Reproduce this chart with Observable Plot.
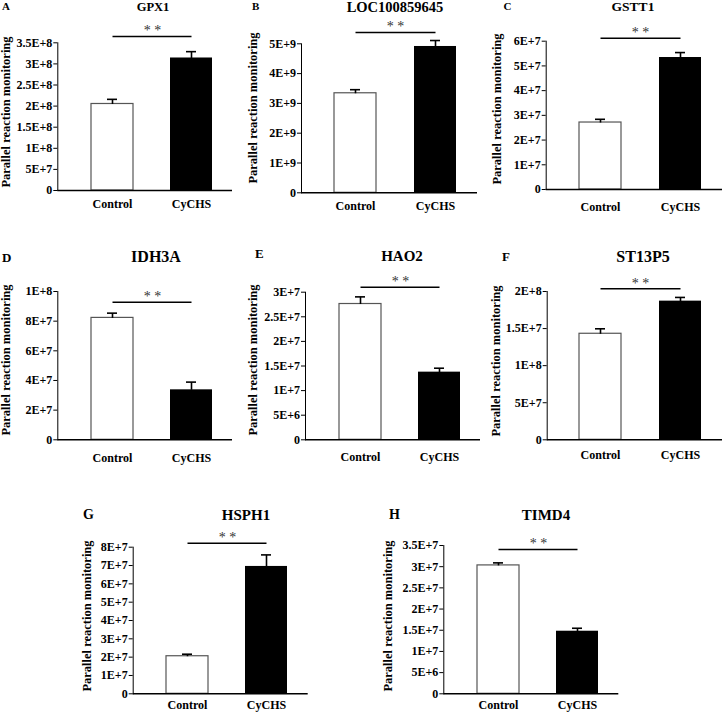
<!DOCTYPE html>
<html><head><meta charset="utf-8">
<script src="https://cdn.jsdelivr.net/npm/d3@7"></script>
<script src="https://cdn.jsdelivr.net/npm/@observablehq/plot@0.6"></script>
<style>
html,body{margin:0;padding:0;background:#fff;}
#fig{position:relative;width:722px;height:714px;overflow:hidden;font-family:'Liberation Serif','Times New Roman',serif;font-weight:bold;color:#000;}
.panel{position:absolute;}
.lbl{position:absolute;white-space:nowrap;line-height:1;}
.ylab{position:absolute;white-space:nowrap;line-height:1;transform:translate(-50%,-50%) rotate(-90deg);}
#fig svg text{font-family:'Liberation Serif','Times New Roman',serif;font-weight:bold;}
#fig svg g[aria-label="text"] text{font-weight:normal;fill:#333;}
</style></head><body><div id="fig"></div>
<script>
// ---------- data ----------
const groups = ["Control", "CyCHS"];
const letters = ["A", "B", "C", "D", "E", "F", "G", "H"];
const genes = ["GPX1", "LOC100859645", "GSTT1", "IDH3A", "HAO2", "ST13P5", "HSPH1", "TIMD4"];
const controlMean = [2.05e8, 3.34e9, 2.71e7, 8.22e7, 2.76e7, 1.43e8, 2.05e7, 3.03e7];
const controlErr  = [0.11e8, 0.12e9, 0.13e7, 0.32e7, 0.145e7, 0.067e8, 0.11e7, 0.06e7];
const cychsMean   = [3.14e8, 4.91e9, 5.34e7, 3.37e7, 1.375e7, 1.87e8, 6.95e7, 1.477e7];
const cychsErr    = [0.15e8, 0.20e9, 0.20e7, 0.52e7, 0.08e7, 0.05e8, 0.63e7, 0.07e7];
const sigLevel    = [3.65e8, 5.38e9, 6.12e7, 0.928e8, 3.10e7, 2.036e8, 8.22e7, 3.406e7];
const sigText = "* *";
const yLabel = "Parallel reaction monitoring";
const yTickValues = [
  [0, 5e7, 1e8, 1.5e8, 2e8, 2.5e8, 3e8, 3.5e8],
  [0, 1e9, 2e9, 3e9, 4e9, 5e9],
  [0, 1e7, 2e7, 3e7, 4e7, 5e7, 6e7],
  [0, 2e7, 4e7, 6e7, 8e7, 1e8],
  [0, 5e6, 1e7, 1.5e7, 2e7, 2.5e7, 3e7],
  [0, 5e7, 1e8, 1.5e8, 2e8],
  [0, 1e7, 2e7, 3e7, 4e7, 5e7, 6e7, 7e7, 8e7],
  [0, 5e6, 1e7, 1.5e7, 2e7, 2.5e7, 3e7, 3.5e7]
];
const yTickLabels = [
  ["0", "5E+7", "1E+8", "1.5E+8", "2E+8", "2.5E+8", "3E+8", "3.5E+8"],
  ["0", "1E+9", "2E+9", "3E+9", "4E+9", "5E+9"],
  ["0", "1E+7", "2E+7", "3E+7", "4E+7", "5E+7", "6E+7"],
  ["0", "2E+7", "4E+7", "6E+7", "8E+7", "1E+8"],
  ["0", "5E+6", "1E+7", "1.5E+7", "2E+7", "2.5E+7", "3E+7"],
  ["0", "5E+7", "1E+8", "1.5E+7", "2E+8"],
  ["0", "1E+7", "2E+7", "3E+7", "4E+7", "5E+7", "6E+7", "7E+7", "8E+7"],
  ["0", "5E+6", "1E+7", "1.5E+7", "2E+7", "2.5E+7", "3E+7", "3.5E+7"]
];

// ---------- layout (pixels, styles) ----------
const layout = [
  {left: 0,   top: 0,   w: 240, h: 222, axisX: 57.3,  topY: 42.3,  zeroY: 190,   xEnd: 232,   ylabX: 6,     ylabY: 112, xPad: 8.5,  letterX: 2,     letterY: 10.7, letterSize: 11, titleX: 153, titleY: 11.7, titleSize: 12.5},
  {left: 240, top: 0,   w: 245, h: 222, axisX: 301,   topY: 43.3,  zeroY: 192.3, xEnd: 477,   ylabX: 253,   ylabY: 108, xPad: 9,    letterX: 252,   letterY: 10.5, letterSize: 11, titleX: 395, titleY: 12.3, titleSize: 14.5},
  {left: 480, top: 0,   w: 242, h: 222, axisX: 545.7, topY: 40.7,  zeroY: 189,   xEnd: 722,   ylabX: 496.7, ylabY: 109, xPad: 12.5, letterX: 503.5, letterY: 10.5, letterSize: 11, titleX: 633, titleY: 11.7, titleSize: 13.5},
  {left: 0,   top: 235, w: 240, h: 232, axisX: 57.3,  topY: 291,   zeroY: 439.3, xEnd: 232,   ylabX: 6,     ylabY: 360, xPad: 13.5, letterX: 2,     letterY: 261.7, letterSize: 13, titleX: 156, titleY: 262, titleSize: 16},
  {left: 240, top: 235, w: 245, h: 232, axisX: 305,   topY: 291.7, zeroY: 439.3, xEnd: 480,   ylabX: 253.3, ylabY: 360, xPad: 13,   letterX: 255,   letterY: 258, letterSize: 13, titleX: 402, titleY: 261.7, titleSize: 15},
  {left: 480, top: 235, w: 242, h: 232, axisX: 546.7, topY: 291,   zeroY: 439.3, xEnd: 722,   ylabX: 496,   ylabY: 361, xPad: 11,   letterX: 502,   letterY: 261, letterSize: 13, titleX: 643, titleY: 262, titleSize: 16},
  {left: 70,  top: 470, w: 245, h: 244, axisX: 132.7, topY: 546.7, zeroY: 693.3, xEnd: 307.7, ylabX: 86.7,  ylabY: 616, xPad: 7,    letterX: 83,    letterY: 520, letterSize: 14, titleX: 246, titleY: 520.7, titleSize: 15},
  {left: 380, top: 470, w: 245, h: 244, axisX: 443.3, topY: 545,   zeroY: 693.3, xEnd: 618.3, ylabX: 388,   ylabY: 616, xPad: 7,    letterX: 389,   letterY: 520, letterSize: 14, titleX: 546, titleY: 520.7, titleSize: 15}
];
const yLabelSize = 12.5;
const yTickSize = 12;
const xTickSize = 12;

const serif = "'Liberation Serif','Times New Roman',serif";
const fig = document.getElementById("fig");

function addLabel(text, x, baseline, size, center) {
  const el = document.createElement("div");
  el.className = "lbl";
  el.textContent = text;
  el.style.fontSize = size + "px";
  el.style.top = (baseline - 0.8375 * size) + "px";
  el.style.left = x + "px";
  if (center) el.style.transform = "translateX(-50%)";
  fig.appendChild(el);
}
function addYLabel(text, cx, cy, size) {
  const el = document.createElement("div");
  el.className = "ylab";
  el.textContent = text;
  el.style.fontSize = size + "px";
  el.style.left = cx + "px";
  el.style.top = cy + "px";
  fig.appendChild(el);
}

genes.forEach((gene, k) => {
  const L = layout[k];
  const rows = [
    {group: groups[0], value: controlMean[k], err: controlErr[k]},
    {group: groups[1], value: cychsMean[k], err: cychsErr[k]}
  ];
  const ticks = yTickValues[k];
  const labels = yTickLabels[k];
  const sig = sigLevel[k];
  const fmt = d => labels[ticks.indexOf(d)];
  const chart = Plot.plot({
    width: L.w,
    height: L.h,
    marginLeft: L.axisX - L.left,
    marginRight: L.left + L.w - L.xEnd,
    marginTop: L.topY - L.top,
    marginBottom: L.top + L.h - L.zeroY,
    style: {fontFamily: serif, fontWeight: "bold", fontSize: yTickSize + "px", color: "#000", background: "transparent", overflow: "visible"},
    x: {type: "band", domain: groups, paddingInner: 0.47, paddingOuter: 0.33, align: 0.62, label: null, tickSize: 0, tickPadding: L.xPad},
    y: {domain: [0, ticks[ticks.length - 1]], ticks: ticks, tickFormat: fmt, tickSize: 4, tickPadding: 1.5, line: true, label: null},
    marks: [
      Plot.barY(rows.filter(d => d.group === groups[0]), {x: "group", y: "value", fill: "white", stroke: "#555", strokeWidth: 1.2}),
      Plot.barY(rows.filter(d => d.group === groups[1]), {x: "group", y: "value", fill: "black"}),
      Plot.link(rows, {x1: "group", x2: "group", y1: "value", y2: d => d.value + d.err, stroke: "black", strokeWidth: 1.6}),
      Plot.tickY(rows, {x: "group", y: d => d.value + d.err, stroke: "black", strokeWidth: 1.6, insetLeft: 16, insetRight: 16}),
      Plot.ruleY([0], {stroke: "black", strokeWidth: 1.5}),
      Plot.link([sig], {x1: () => groups[0], x2: () => groups[1], y1: d => d, y2: d => d, stroke: "black", strokeWidth: 1.5}),
      Plot.text([sig], {x: () => groups[0], y: d => d, text: () => sigText, dx: 40, dy: -1, lineAnchor: "bottom", fontSize: 14, fontWeight: "normal", fill: "#333"})
    ]
  });
  const wrap = document.createElement("div");
  wrap.className = "panel";
  wrap.style.left = L.left + "px";
  wrap.style.top = L.top + "px";
  wrap.appendChild(chart);
  fig.appendChild(wrap);
  chart.querySelectorAll('g[aria-label^="y-axis"] text').forEach(t => {
    t.style.fontSize = yTickSize + "px"; t.style.fontWeight = "bold"; t.style.fill = "#000";
  });
  chart.querySelectorAll('g[aria-label^="x-axis"] text').forEach(t => {
    t.style.fontSize = xTickSize + "px"; t.style.fontWeight = "bold"; t.style.fill = "#000";
  });
  addLabel(letters[k], L.letterX, L.letterY, L.letterSize, false);
  addLabel(gene, L.titleX, L.titleY, L.titleSize, true);
  addYLabel(yLabel, L.ylabX, L.ylabY, yLabelSize);
});
</script></body></html>
